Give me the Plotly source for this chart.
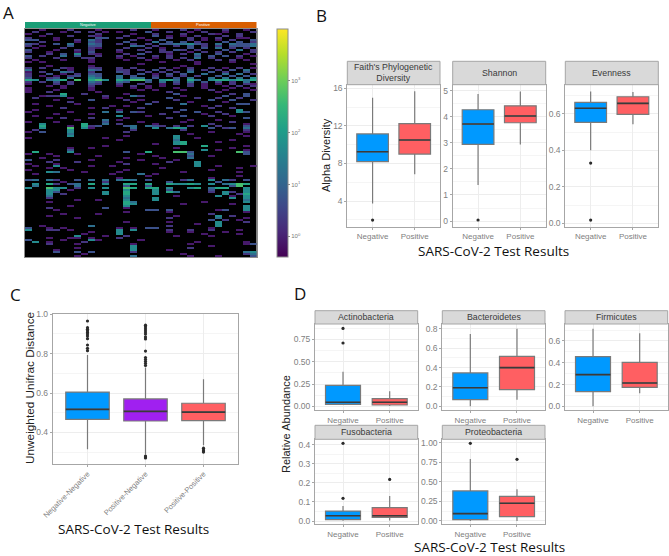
import plotly.graph_objects as go

W, H = 669, 556
BLUE, RED, PURPLE = "#0099FF", "#FF5F62", "#A020F0"

# ---------- Panel A: values, log10 levels per digit ----------
N_ROWS, N_COLS = 114, 33
LEVELS = {1: -0.1, 2: 0.3, 3: 0.7, 4: 1.2, 5: 1.7, 6: 2.2, 7: 2.7, 8: 3.2}
HEAT_TOP = [
    "..1...2." "." ".1." "." "..2..1...2.1...2..1.",
    ".2...1.2" "." "2.1" "." "1...3..2..1.2..1...2",
    "1..2....." ".2." "." "..1..2...2...21..2..",
    "..1...2." "." "21." "." ".2...3.1.1.2...2.2..",
    "2...1..." "." ".33" "." "2..1...2..2.1.2..11.",
    "33..1..2" "." "42." "." "..2.1.3...2.1.1.2..3",
    "..2....1" "." "32." "." ".3...4.3.3.2...3.3.2",
    "32..3.4." "." "43." "." "2.2.2.3344532.4.4334",
    "2.1...3." "." "33." "." "..43.2..2.3.2.2.3334",
    ".1...2.." "." "21." "." ".2..2.1...3.3.4.2.2.",
    "3...1..2" "." "2.." "." "2..2..2.32.2...3.4.2",
    "2..1...1" "." "3.." "." "1...2.22..1.2.2.2..2",
    "...2.3.5" "." "21." "." ".2.3...1.2.4..3...1.",
    "3.2..4.3" "." ".2." "." "2.1..2.2...3.3.3.2.1",
    "2...2...2" "2.." "." "1..2.1.2.2.4.2...1..2",
    ".1...1.." "." "1.." "." ".1..1...1.2...2.2.1.",
    "1.1....." "." "1.." "." "......1....1....1...",
    "........" "." "..." "." "...1.......1.......1",
    "...1...." "." "1.." "." ".........1..........",
    "2.2..21." "." "22." "." "2.2...2.1.2..2.1.2.1",
    "4...3.1." "." "43." "." "22.2.3.2..3.2.2.3.4.",
    "1.2..43." "." "2.." "." "32..2.2.2.4..3.2..3.",
    "2..3.1.2" "." "33." "." ".2.3.1.3.3..4..4.4.2",
    "2.1.1.23" "." "43." "." "4.3..2.2.2.2..3.3.3.",
    "3..23.4." "." "54." "." "4.44.3..3.4..4.4.4.5",
    "65.456.7" "." "675" "." "65774.56" "4." "64" "." "5665646",
    "2.2.3.2." "." "43." "." "43..3.4.3.4.3.3.2.4.",
    "1...2.2." "." "32." "." "2..2..1.2.2.1.1.2.21",
    "...1.1.." "." "2.." "." "1.2.1.1...2.1..1.2.2",
    "1....1.." "." "1.." "." "..1.1...1...1...1.1.",
    "1...1..." "." "1.." "." "...1.1...1...2.1...1",
]
HEAT_MID = {
    31: {0: 1, 3: 2, 10: 1, 20: 2, 27: 1},
    32: {5: 6, 8: 2, 14: 1, 21: 3, 29: 2, 31: 3},
    33: {5: 5, 2: 1, 3: 2, 4: 2, 11: 2, 15: 4, 16: 2, 22: 1, 28: 3, 31: 3},
    34: {1: 2, 6: 1, 11: 1, 13: 1, 20: 3, 24: 2, 27: 2, 30: 2},
    35: {4: 1, 9: 3, 14: 2, 16: 1, 21: 2, 26: 3, 29: 3, 32: 2},
    36: {6: 2, 15: 1, 18: 2, 23: 1, 28: 1},
    37: {1: 1, 7: 1, 17: 3, 22: 4, 30: 3, 31: 3},
    38: {3: 1, 12: 1, 14: 1, 25: 1, 27: 2},
    39: {5: 2, 9: 1, 11: 2, 16: 2, 20: 3, 26: 2, 29: 2},
    40: {1: 1, 13: 1, 22: 3, 30: 5},
    41: {0: 1, 6: 1, 11: 4, 13: 4, 15: 3, 16: 2, 21: 2, 24: 3, 27: 2, 30: 5, 31: 3},
    42: {4: 1, 9: 1, 19: 2, 25: 1, 28: 2},
    43: {1: 1, 13: 5, 17: 1, 22: 3, 26: 2, 29: 1},
    44: {3: 1, 5: 2, 9: 2, 14: 1, 20: 2, 31: 3},
    45: {11: 4, 7: 1, 13: 1, 23: 1, 27: 1},
    46: {11: 3, 0: 1, 4: 1, 16: 1, 22: 1, 29: 2},
    47: {11: 4, 8: 6, 2: 5, 13: 2, 18: 1, 26: 2, 31: 1},
    48: {2: 6, 8: 6, 6: 1, 9: 2, 10: 3, 14: 3, 15: 4, 17: 4, 18: 3, 19: 2, 21: 2, 23: 2, 25: 5, 27: 2, 31: 3},
    49: {2: 5, 6: 7, 8: 5, 9: 1, 15: 4, 18: 5, 20: 4, 21: 6, 22: 5, 26: 3, 28: 2, 29: 3, 31: 4},
    50: {1: 2, 6: 5, 15: 2, 22: 2, 31: 2},
    51: {0: 1, 2: 3, 6: 5, 14: 2, 26: 1, 31: 1},
    52: {6: 4, 30: 1, 23: 1},
    53: {6: 5, 21: 5, 14: 1, 31: 1},
    54: {21: 5, 0: 1, 11: 1, 24: 1},
    55: {21: 4, 13: 1, 29: 1},
    56: {21: 5, 22: 6, 27: 1},
    57: {21: 5, 22: 6, 18: 1},
    58: {25: 6, 11: 1, 31: 1},
    59: {6: 1, 9: 1, 21: 1, 29: 1},
    60: {25: 5, 6: 3, 27: 1, 31: 1},
    61: {1: 6, 6: 5, 14: 3, 17: 6, 21: 7, 22: 7, 23: 3, 30: 7, 31: 3},
    62: {0: 1, 3: 1, 7: 1, 23: 4, 31: 3, 16: 1},
    63: {4: 1, 10: 1, 23: 3, 18: 1, 26: 1},
    64: {23: 4, 2: 1, 14: 1, 19: 1},
    65: {0: 3, 4: 2, 9: 1, 16: 1, 21: 1},
    66: {24: 5, 3: 2, 7: 2, 13: 1, 20: 2},
    67: {24: 5, 0: 1, 4: 1, 14: 2, 18: 1},
    68: {4: 5, 24: 5, 1: 1, 9: 1, 12: 1, 27: 1, 32: 1},
    69: {3: 1, 5: 1, 19: 1, 30: 1},
    70: {0: 1, 6: 1, 14: 1, 26: 1},
    71: {3: 5, 4: 4, 8: 1, 13: 1, 22: 1, 30: 1},
    72: {16: 4, 1: 1, 12: 1, 18: 1},
    73: {17: 1, 30: 1},
    74: {26: 1, 13: 1},
    75: {0: 3, 1: 4, 3: 4, 4: 2, 7: 3, 9: 4, 11: 4, 13: 4, 14: 5, 15: 4, 17: 3, 22: 2, 23: 4, 26: 5, 28: 4, 29: 2, 31: 3},
    76: {5: 1, 11: 2, 20: 3, 27: 3},
    77: {1: 5, 3: 6, 4: 2, 6: 3, 7: 4, 9: 6, 11: 5, 14: 6, 15: 6, 17: 6, 20: 6, 21: 5, 22: 5, 23: 6, 24: 5, 26: 5, 28: 4, 29: 5, 30: 7, 31: 6},
    78: {1: 4, 7: 4, 14: 3, 17: 3, 29: 3, 30: 7},
    79: {0: 5, 3: 7, 4: 5, 5: 5, 7: 2, 9: 5, 11: 5, 14: 7, 15: 6, 17: 6, 18: 6, 20: 5, 23: 5, 24: 6, 26: 4, 27: 6, 28: 6, 31: 5},
    80: {3: 5, 4: 5, 6: 1, 14: 5, 18: 5, 20: 3, 26: 3, 31: 5},
    81: {3: 5, 4: 3, 11: 5, 14: 6, 18: 5, 20: 6, 21: 4, 26: 2, 28: 5, 29: 2, 31: 5},
    82: {3: 5, 5: 2, 11: 5, 14: 6, 18: 5, 28: 5, 30: 2, 31: 6},
    83: {3: 4, 14: 5, 21: 1, 27: 5, 29: 1, 31: 5},
    84: {3: 2, 14: 4, 18: 5, 29: 5, 31: 5},
    85: {7: 1, 10: 1, 14: 5, 18: 5, 31: 4},
    86: {3: 1, 14: 6, 15: 4, 25: 1, 31: 5},
    87: {14: 6, 15: 5, 22: 1, 29: 1},
    88: {14: 5, 6: 1, 31: 5},
    89: {3: 2, 11: 3, 14: 1, 31: 5},
    90: {4: 1, 18: 3, 20: 3, 17: 3, 27: 1, 31: 5, 28: 3},
    91: {14: 1, 20: 1, 31: 1},
    92: {5: 1, 10: 1, 26: 2},
    93: {3: 1, 21: 1, 27: 5, 29: 2},
    94: {27: 4, 20: 2, 31: 1, 7: 1},
    95: {28: 2, 26: 3, 30: 1},
    96: {20: 1, 14: 1, 27: 5, 31: 2},
    97: {27: 5, 24: 1},
    98: {9: 4, 27: 5, 20: 2, 2: 1},
    99: {0: 3, 3: 1, 5: 1, 13: 1, 15: 1, 17: 3, 18: 3, 26: 1},
    100: {0: 5, 3: 2, 4: 2, 6: 1, 13: 5, 15: 5, 20: 2, 23: 2, 26: 2, 30: 1},
    101: {13: 5, 9: 1, 20: 1, 23: 1, 28: 1},
    102: {13: 5, 8: 1, 30: 1, 25: 1},
    103: {7: 5, 11: 1, 14: 2, 21: 1, 26: 1},
    104: {3: 1, 6: 1, 7: 1, 13: 2, 9: 1},
    105: {0: 3, 9: 5, 5: 1, 10: 1, 16: 1},
    106: {1: 5, 8: 2, 3: 1, 24: 1, 31: 1},
    107: {3: 2, 7: 1, 15: 1, 23: 1, 31: 1, 32: 3},
    108: {15: 5, 26: 1},
    109: {15: 5, 23: 2, 7: 1},
    110: {15: 5, 4: 1, 20: 1},
    111: {4: 3, 7: 3, 9: 3, 15: 2, 31: 4, 32: 5},
    112: {8: 1, 22: 1, 32: 4, 31: 2},
    113: {15: 4, 7: 1, 23: 1, 27: 1, 32: 3},
}
COLORBAR_TICKS = [0, 1, 2, 3]
COLORBAR_LABELS = ["10<sup>0</sup>", "10<sup>1</sup>", "10<sup>2</sup>", "10<sup>3</sup>"]
Z_MIN, Z_MAX = -0.4, 4.0

# ---------- Panels B, C, D: box statistics ----------
# each: (q1, median, q3, low whisker, high whisker)
FAITH = {"Negative": (8.2, 9.25, 11.15, 3.75, 15.0), "Positive": (9.0, 10.5, 12.25, 6.85, 15.7)}
FAITH_OUT = {"Negative": [1.98], "Positive": []}
SHANNON = {"Negative": (2.94, 3.72, 4.27, 1.38, 4.87), "Positive": (3.77, 4.03, 4.42, 2.94, 4.97)}
SHANNON_OUT = {"Negative": [0.04], "Positive": []}
EVENNESS = {"Negative": (0.553, 0.63, 0.662, 0.40, 0.722), "Positive": (0.597, 0.657, 0.693, 0.542, 0.719)}
EVENNESS_OUT = {"Negative": [0.33, 0.018], "Positive": []}

UNIFRAC = {
    "Negative-Negative": (0.466, 0.517, 0.605, 0.315, 0.793),
    "Positive-Negative": (0.458, 0.507, 0.57, 0.288, 0.73),
    "Positive-Positive": (0.46, 0.503, 0.548, 0.335, 0.67),
}
UNIFRAC_OUT = {
    "Negative-Negative": [0.815, 0.827, 0.844, 0.876, 0.89, 0.9, 0.908, 0.916, 0.924, 0.932, 0.966],
    "Positive-Negative": [0.27, 0.275, 0.28, 0.74, 0.75, 0.76, 0.77, 0.78, 0.813, 0.875, 0.885, 0.9, 0.91, 0.92, 0.93, 0.94, 0.945],
    "Positive-Positive": [0.30, 0.305, 0.31, 0.32],
}

ACTINO = {"Negative": (0.022, 0.045, 0.235, 0.015, 0.388), "Positive": (0.015, 0.045, 0.086, 0.004, 0.17)}
ACTINO_OUT = {"Negative": [0.709, 0.873], "Positive": []}
BACTERO = {"Negative": (0.069, 0.192, 0.344, 0.0, 0.746), "Positive": (0.172, 0.399, 0.515, 0.069, 0.8)}
BACTERO_OUT = {"Negative": [], "Positive": []}
FIRMI = {"Negative": (0.135, 0.291, 0.456, 0.0, 0.713), "Positive": (0.174, 0.214, 0.404, 0.119, 0.67)}
FIRMI_OUT = {"Negative": [], "Positive": []}
FUSO = {"Negative": (0.007, 0.028, 0.052, 0.002, 0.079), "Positive": (0.019, 0.028, 0.07, 0.003, 0.131)}
FUSO_OUT = {"Negative": [0.119, 0.407], "Positive": [0.218]}
PROTEO = {"Negative": (0.017, 0.094, 0.385, 0.0, 0.795), "Positive": (0.056, 0.226, 0.316, 0.0, 0.406)}
PROTEO_OUT = {"Negative": [0.996], "Positive": [0.79]}

FONT = "Liberation Sans"
TITLE_FONT = "Open Sans"
BORDER = "#A6A6A6"
GRID = "#EDEDED"
GRID_MINOR = "#F5F5F5"
TICK_GREY = "#808080"

fig = go.Figure()
shapes, annotations, axes = [], [], {}
axis_no = [0]


def fx(px):
    return px / W


def fy(py):
    return 1 - py / H


def text(px, py, s, size, color="#222222", family=FONT, angle=0):
    annotations.append(dict(
        x=fx(px), y=fy(py), xref="paper", yref="paper", text=s, showarrow=False,
        font=dict(size=size, color=color, family=family), textangle=angle,
        xanchor="center", yanchor="middle",
    ))


def panel(box, y_range, dtick, x_range, tickformat=None, strip=None, strip_top=None,
          tick_size=8.5, x_tick_size=8, tickangle=0):
    """Create one axis pair at pixel rect box=(x0,x1,y0,y1)."""
    axis_no[0] += 1
    n = axis_no[0]
    x0, x1, y0, y1 = box
    suffix = "" if n == 1 else str(n)
    axes["xaxis" + suffix] = dict(
        domain=[fx(x0), fx(x1)], anchor="y" + suffix, range=x_range, type="category",
        showline=True, mirror=True, linecolor=BORDER, linewidth=1,
        showgrid=True, gridcolor=GRID, gridwidth=1, zeroline=False,
        ticks="outside", ticklen=2, tickcolor=BORDER, tickwidth=1,
        tickfont=dict(size=x_tick_size, color=TICK_GREY, family=FONT),
        tickangle=tickangle, fixedrange=True,
    )
    axes["yaxis" + suffix] = dict(
        domain=[fy(y1), fy(y0)], anchor="x" + suffix, range=y_range, dtick=dtick, tick0=0,
        showline=True, mirror=True, linecolor=BORDER, linewidth=1,
        showgrid=True, gridcolor=GRID, gridwidth=1, zeroline=False,
        minor=dict(showgrid=True, gridcolor=GRID_MINOR, gridwidth=1, dtick=dtick / 2, tick0=0),
        ticks="outside", ticklen=2, tickcolor=BORDER, tickwidth=1,
        tickfont=dict(size=tick_size, color=TICK_GREY, family=FONT),
        tickformat=tickformat, fixedrange=True,
    )
    if strip is not None:
        shapes.append(dict(type="rect", xref="paper", yref="paper", layer="above",
                           x0=fx(x0), x1=fx(x1), y0=fy(y0), y1=fy(strip_top),
                           fillcolor="#D9D9D9", line=dict(color=BORDER, width=1)))
        text((x0 + x1) / 2, (y0 + strip_top) / 2, strip, 8.8, color="#3A3A3A")
    return "x" + suffix, "y" + suffix


def boxes(stats, outliers, colors, xa, ya):
    for name, color in zip(stats, colors):
        q1, med, q3, lo, hi = stats[name]
        fig.add_trace(go.Box(
            x=[name], q1=[q1], median=[med], q3=[q3], lowerfence=[lo], upperfence=[hi],
            width=0.75, whiskerwidth=0, fillcolor=color, line=dict(color="#7A7A7A", width=1.2),
            boxpoints=False, showlegend=False, xaxis=xa, yaxis=ya, hoverinfo="skip",
        ))
        fig.add_trace(go.Box(
            x=[name], q1=[med], median=[med], q3=[med], lowerfence=[med], upperfence=[med],
            width=0.75, whiskerwidth=0, fillcolor="rgba(0,0,0,0)", line=dict(color="#3A3A3A", width=1.6),
            boxpoints=False, showlegend=False, xaxis=xa, yaxis=ya, hoverinfo="skip",
        ))
        if outliers[name]:
            fig.add_trace(go.Scatter(
                x=[name] * len(outliers[name]), y=outliers[name], mode="markers",
                marker=dict(size=3.2, color="#2B2B2B"), showlegend=False, xaxis=xa, yaxis=ya,
                hoverinfo="skip",
            ))


# ---------- Panel A ----------
matrix = [[None] * N_COLS for _ in range(N_ROWS)]
for r, row in enumerate(HEAT_TOP):
    for c, ch in enumerate(row[:N_COLS]):
        if ch != ".":
            matrix[r][c] = LEVELS[int(ch)]
for r, cells in HEAT_MID.items():
    for c, lvl in cells.items():
        matrix[r][c] = LEVELS[lvl]

axis_no[0] += 1
axes["xaxis"] = dict(domain=[fx(25), fx(256.5)], anchor="y", range=[-0.5, N_COLS - 0.5],
                     showticklabels=False, ticks="", showgrid=False, zeroline=False,
                     showline=True, mirror=True, linecolor="#8C8C8C", linewidth=1, fixedrange=True)
axes["yaxis"] = dict(domain=[fy(257), fy(29)], anchor="x", range=[N_ROWS - 0.5, -0.5],
                     showticklabels=False, ticks="", showgrid=False, zeroline=False,
                     showline=True, mirror=True, linecolor="#8C8C8C", linewidth=1, fixedrange=True)
fig.add_trace(go.Heatmap(
    z=matrix, colorscale="Viridis", zmin=Z_MIN, zmax=Z_MAX, hoverongaps=False, xaxis="x", yaxis="y",
    colorbar=dict(
        x=fx(277), xanchor="left", y=fy(257), yanchor="bottom", lenmode="pixels", len=228,
        thicknessmode="pixels", thickness=11, outlinecolor="#8C8C8C", outlinewidth=1,
        tickvals=COLORBAR_TICKS, ticktext=COLORBAR_LABELS, ticks="outside", ticklen=2,
        tickcolor="#888888", tickfont=dict(size=6, color="#777777", family=FONT), xpad=0, ypad=0,
    ),
))
shapes.append(dict(type="rect", xref="paper", yref="paper", layer="below", x0=fx(25), x1=fx(256.5),
                   y0=fy(257), y1=fy(29), fillcolor="black", line=dict(width=0)))
shapes.append(dict(type="rect", xref="paper", yref="paper", x0=fx(25), x1=fx(151), y0=fy(28), y1=fy(22),
                   fillcolor="#1B9E77", line=dict(width=0)))
shapes.append(dict(type="rect", xref="paper", yref="paper", x0=fx(151), x1=fx(256.5), y0=fy(28), y1=fy(22),
                   fillcolor="#D95F02", line=dict(width=0)))
text(88, 25, "Negative", 4, color="white")
text(203.5, 25, "Positive", 4, color="white")

# ---------- Panel B ----------
TWO = [-0.6, 1.6]
xa, ya = panel((347.3, 440, 84.7, 226.7), [1.27, 16.39], 4, TWO, strip="Faith's Phylogenetic<br>Diversity", strip_top=61.3)
boxes(FAITH, FAITH_OUT, [BLUE, RED], xa, ya)
xa, ya = panel((452.7, 545.7, 84.7, 226.7), [-0.217, 5.23], 1, TWO, strip="Shannon", strip_top=61.3)
boxes(SHANNON, SHANNON_OUT, [BLUE, RED], xa, ya)
xa, ya = panel((565.3, 658.3, 84.7, 226.7), [-0.018, 0.759], 0.2, TWO, tickformat=".1f", strip="Evenness", strip_top=61.3)
boxes(EVENNESS, EVENNESS_OUT, [BLUE, RED], xa, ya)

# ---------- Panel C ----------
xa, ya = panel((52.7, 238.3, 314.3, 463.7), [0.241, 1.0], 0.2, [-0.6, 2.6], tickformat=".1f", tickangle=-45, x_tick_size=7.5)
boxes(UNIFRAC, UNIFRAC_OUT, [BLUE, PURPLE, RED], xa, ya)

# ---------- Panel D ----------
xa, ya = panel((315, 417.7, 324, 410), [-0.041, 0.922], 0.25, TWO, tickformat=".2f", strip="Actinobacteria", strip_top=310.7)
boxes(ACTINO, ACTINO_OUT, [BLUE, RED], xa, ya)
xa, ya = panel((442.3, 545, 324, 410), [-0.038, 0.849], 0.2, TWO, tickformat=".1f", strip="Bacteroidetes", strip_top=310.7)
boxes(BACTERO, BACTERO_OUT, [BLUE, RED], xa, ya)
xa, ya = panel((565, 667.7, 324, 410), [-0.034, 0.756], 0.2, TWO, tickformat=".1f", strip="Firmicutes", strip_top=310.7)
boxes(FIRMI, FIRMI_OUT, [BLUE, RED], xa, ya)
xa, ya = panel((315, 417.7, 439.3, 524.3), [-0.017, 0.428], 0.1, TWO, tickformat=".1f", strip="Fusobacteria", strip_top=425.3)
boxes(FUSO, FUSO_OUT, [BLUE, RED], xa, ya)
xa, ya = panel((442.3, 545, 439.3, 524.3), [-0.043, 1.047], 0.25, TWO, tickformat=".2f", strip="Proteobacteria", strip_top=425.3)
boxes(PROTEO, PROTEO_OUT, [BLUE, RED], xa, ya)

# ---------- Text ----------
text(326, 155, "Alpha Diversity", 11, angle=-90)
text(30, 388, "Unweighted Unifrac Distance", 11.8, angle=-90)
text(286, 424, "Relative Abundance", 11, angle=-90)
text(494, 251, "SARS-CoV-2 Test Results", 13.5, family=TITLE_FONT, color="#111111")
text(133, 529, "SARS-CoV-2 Test Results", 13.5, family=TITLE_FONT, color="#111111")
text(489, 546.5, "SARS-CoV-2 Test Results", 13.5, family=TITLE_FONT, color="#111111")
text(8, 12.5, "A", 17, family=TITLE_FONT, color="#111111")
text(321, 15, "B", 17, family=TITLE_FONT, color="#111111")
text(15, 294, "C", 17, family=TITLE_FONT, color="#111111")
text(300, 293, "D", 17, family=TITLE_FONT, color="#111111")

fig.update_layout(
    width=W, height=H, autosize=False, margin=dict(l=0, r=0, t=0, b=0, autoexpand=False),
    paper_bgcolor="white", plot_bgcolor="rgba(0,0,0,0)", shapes=shapes, annotations=annotations,
    boxmode="overlay", showlegend=False, **axes,
)
fig.write_html("out.html", config={"displayModeBar": False},
               post_script="document.body.style.margin='0';")
